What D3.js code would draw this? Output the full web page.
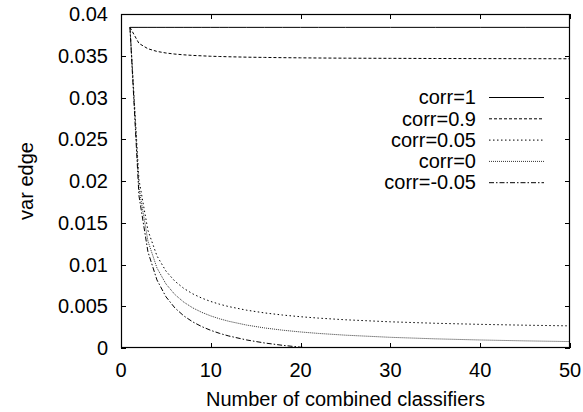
<!DOCTYPE html>
<html>
<head>
<meta charset="utf-8">
<script src="https://cdn.jsdelivr.net/npm/d3@7"></script>
<style>
  body { margin: 0; background: #fff; }
  svg { display: block; }
</style>
</head>
<body>
<svg id="chart" width="583" height="412"></svg>
<script>
// number of combined classifiers (x positions where values were read)
const nValues = [1, 2, 3, 4, 5, 6, 7, 8, 9, 10, 11, 12, 14, 16, 18, 20, 22, 25, 30, 35, 40, 45, 50];

// var edge per series
const corr1   = [0.0384, 0.0384, 0.0384, 0.0384, 0.0384, 0.0384, 0.0384, 0.0384, 0.0384, 0.0384, 0.0384, 0.0384,
                 0.0384, 0.0384, 0.0384, 0.0384, 0.0384, 0.0384, 0.0384, 0.0384, 0.0384, 0.0384, 0.0384];
const corr09  = [0.0384, 0.03648, 0.03584, 0.03552, 0.03533, 0.0352, 0.03511, 0.03504, 0.03499, 0.03494, 0.03491, 0.03488,
                 0.03483, 0.0348, 0.03477, 0.03475, 0.03473, 0.03471, 0.03469, 0.03467, 0.03466, 0.03465, 0.03464];
const corr005 = [0.0384, 0.02016, 0.01408, 0.01104, 0.009216, 0.008, 0.007131, 0.00648, 0.005973, 0.005568, 0.005236, 0.00496,
                 0.004526, 0.0042, 0.003947, 0.003744, 0.003578, 0.003379, 0.003136, 0.002962, 0.002832, 0.002731, 0.00265];
const corr0   = [0.0384, 0.0192, 0.0128, 0.0096, 0.00768, 0.0064, 0.005486, 0.0048, 0.004267, 0.00384, 0.003491, 0.0032,
                 0.002743, 0.0024, 0.002133, 0.00192, 0.001745, 0.001536, 0.00128, 0.001097, 0.00096, 0.000853, 0.000768];
const corrNeg = [0.0384, 0.01824, 0.01152, 0.00816, 0.006144, 0.0048, 0.00384, 0.00312, 0.00256, 0.002112, 0.001745, 0.00144,
                 0.00096, 0.0006, 0.00032, 0.000096, -0.000087, null, null, null, null, null, null];

const seriesNames = ["corr=1", "corr=0.9", "corr=0.05", "corr=0", "corr=-0.05"];
const xTicks = [0, 10, 20, 30, 40, 50];
const yTicks = [0, 0.005, 0.01, 0.015, 0.02, 0.025, 0.03, 0.035, 0.04];
const yTickLabels = ["0", "0.005", "0.01", "0.015", "0.02", "0.025", "0.03", "0.035", "0.04"];

const seriesValues = [corr1, corr09, corr005, corr0, corrNeg];
const dashes = [null, "3,2", "1.5,2.5", "1,1", "5,2,1.5,2"];
const strokes = ["#000", "#000", "#000", "#333", "#000"];

const svg = d3.select("#chart");
const font = "'Liberation Sans', Arial, Helvetica, sans-serif";
const fontSize = 20;

const margin = { top: 14, right: 13, bottom: 64, left: 121 };
const width = 583 - margin.left - margin.right;
const height = 412 - margin.top - margin.bottom;

const x = d3.scaleLinear().domain([0, 50]).range([0, width]);
const y = d3.scaleLinear().domain([0, 0.04]).range([height, 0]);

const g = svg.append("g").attr("transform", `translate(${margin.left},${margin.top})`);

svg.append("defs").append("clipPath").attr("id", "plotClip")
    .append("rect").attr("width", width).attr("height", height);

// ticks (inward, mirrored like gnuplot)
const tickLen = 5;
const ticks = g.append("g").attr("stroke", "#000").attr("stroke-width", 1);
xTicks.forEach(t => {
    const px = Math.round(x(t)) + 0.5;
    ticks.append("line").attr("x1", px).attr("x2", px).attr("y1", height).attr("y2", height - tickLen);
    ticks.append("line").attr("x1", px).attr("x2", px).attr("y1", 0).attr("y2", tickLen);
});
yTicks.forEach(t => {
    const py = Math.round(y(t)) + 0.5;
    ticks.append("line").attr("x1", 0).attr("x2", tickLen).attr("y1", py).attr("y2", py);
    ticks.append("line").attr("x1", width).attr("x2", width - tickLen).attr("y1", py).attr("y2", py);
});

// tick labels
g.append("g").selectAll("text")
    .data(xTicks)
    .enter()
    .append("text")
    .attr("x", d => x(d))
    .attr("y", height + 29)
    .attr("text-anchor", "middle")
    .attr("font-family", font)
    .attr("font-size", fontSize)
    .text(d => d);

g.append("g").selectAll("text")
    .data(yTicks)
    .enter()
    .append("text")
    .attr("x", -13)
    .attr("y", d => y(d))
    .attr("dy", "0.36em")
    .attr("text-anchor", "end")
    .attr("font-family", font)
    .attr("font-size", fontSize)
    .text((d, i) => yTickLabels[i]);

// lines
const line = d3.line()
    .defined(d => d[1] !== null)
    .x(d => x(d[0]))
    .y(d => y(d[1]));

const plot = g.append("g").attr("clip-path", "url(#plotClip)");
seriesValues.forEach((vals, i) => {
    const pts = nValues.map((n, j) => [n, vals[j]]);
    plot.append("path")
        .datum(pts)
        .attr("fill", "none")
        .attr("stroke", strokes[i])
        .attr("stroke-width", 1)
        .attr("stroke-dasharray", dashes[i])
        .attr("d", line);
});

// frame
g.append("rect")
    .attr("x", 0.5).attr("y", 0.5)
    .attr("width", width - 1).attr("height", height - 1)
    .attr("fill", "none")
    .attr("stroke", "#000")
    .attr("stroke-width", 1.2);

// legend
const legend = g.append("g").attr("transform", `translate(${476 - margin.left}, ${97 - margin.top})`);
seriesNames.forEach((name, i) => {
    const ly = i * 21.3;
    legend.append("text")
        .attr("x", 0)
        .attr("y", ly)
        .attr("dy", "0.36em")
        .attr("text-anchor", "end")
        .attr("font-family", font)
        .attr("font-size", fontSize)
        .text(name);
    legend.append("line")
        .attr("x1", 13).attr("x2", 68)
        .attr("y1", ly + 0.5).attr("y2", ly + 0.5)
        .attr("stroke", strokes[i])
        .attr("stroke-width", 1)
        .attr("stroke-dasharray", dashes[i]);
});

// axis titles
svg.append("text")
    .attr("x", margin.left + width / 2)
    .attr("y", 406)
    .attr("text-anchor", "middle")
    .attr("font-family", font)
    .attr("font-size", fontSize)
    .text("Number of combined classifiers");

svg.append("text")
    .attr("transform", `translate(33, ${margin.top + height / 2}) rotate(-90)`)
    .attr("text-anchor", "middle")
    .attr("font-family", font)
    .attr("font-size", fontSize)
    .text("var edge");
</script>
</body>
</html>
